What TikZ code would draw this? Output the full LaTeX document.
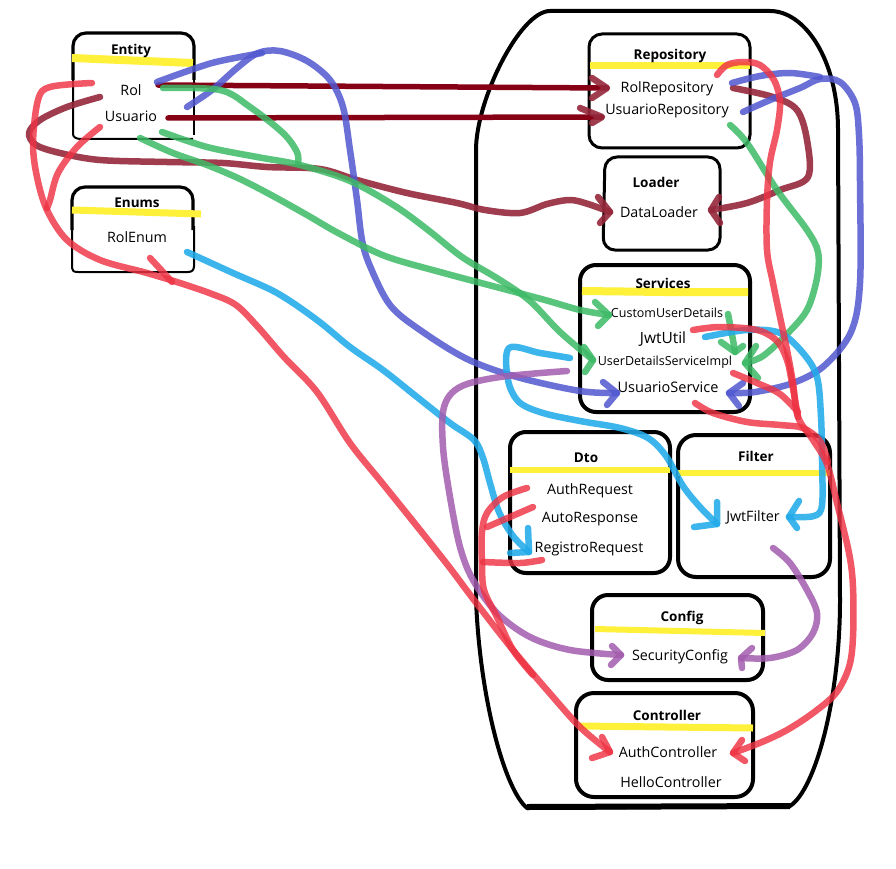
\documentclass[tikz,border=0pt]{standalone}
\usepackage{fontspec}
\setmainfont{Open Sans}
\definecolor{hlyellow}{HTML}{FFF03A}
\definecolor{penmaroon}{HTML}{860016}
\definecolor{penwine}{HTML}{95283C}
\definecolor{penred}{HTML}{EE3344}
\definecolor{penblue}{HTML}{5258CF}
\definecolor{pengreen}{HTML}{3DBA66}
\definecolor{pencyan}{HTML}{22AAEA}
\definecolor{penpurple}{HTML}{A35CAE}
\tikzset{
  frame/.style={line width=4pt, line join=round, line cap=round},
  pkg/.style={line width=4pt, rounded corners=16pt},
  hl/.style={line width=7pt, draw=hlyellow},
  title/.style={font=\bfseries\fontsize{13.5}{16}\selectfont, inner sep=0pt},
  item/.style={font=\fontsize{14.3}{17}\selectfont, inner sep=0pt},
  pen/.style={line width=6.5pt, line cap=round, line join=round},
  maroonpen/.style={line width=5.5pt, draw=penmaroon, line cap=round},
  winepen/.style={pen, draw=penwine, draw opacity=0.9},
  redpen/.style={pen, draw=penred, draw opacity=0.82},
  bluepen/.style={pen, draw=penblue, draw opacity=0.85},
  greenpen/.style={pen, draw=pengreen, draw opacity=0.85},
  cyanpen/.style={pen, draw=pencyan, draw opacity=0.88},
  purplepen/.style={pen, draw=penpurple, draw opacity=0.85},
  sm/.style={smooth, tension=0.55}
}
\begin{document}
\begin{tikzpicture}[x=1pt,y=-1pt]
\useasboundingbox[fill=white] (0,0) rectangle (896,869);

% ---------- outer application frame ----------
\draw[frame] (476,600) -- (476,150) .. controls (476,100) and (520,11) .. (550,11)
  -- (770,11) .. controls (805,11) and (838,60) .. (838,130)
  -- (840,600) .. controls (840,700) and (815,790) .. (790,806)
  -- (527,808) .. controls (505,790) and (480,700) .. (476,600) -- cycle;
\draw[line width=6pt] (527,807) -- (790,806);

% ---------- package boxes ----------
% Entity
\draw[line width=3.2pt, rounded corners=13pt] (73,80) -- (73,33) -- (194,33) -- (194,80);
\draw[line width=2pt] (73,75) -- (73,134) .. controls (73,137) and (76,139) .. (81,139) -- (193,139);
\draw[line width=2pt] (194,75) -- (194,135);
% Enums
\draw[line width=3.2pt, rounded corners=13pt] (72,230) -- (72,187) -- (193,187) -- (193,230);
\draw[line width=2pt] (72,226) -- (72,268) .. controls (72,271) and (74,272) .. (78,272) -- (188,272)
  .. controls (192,272) and (194,270) .. (194,266) -- (194,226);
% packages inside the frame
\draw[line width=3pt, rounded corners=13pt] (589,34) rectangle (750,148);
\draw[line width=3pt, rounded corners=12pt] (605,157) -- (720,157) -- (720,250) -- (603,250) -- cycle;
\draw[pkg] (580,265) rectangle (750,412);
\draw[pkg] (510,432) rectangle (670,573);
\draw[pkg, rounded corners=18pt] (678,435) rectangle (830,577);
\draw[pkg] (592,595) rectangle (763,680);
\draw[pkg, rounded corners=18pt] (576,693) rectangle (753,797);

% ---------- yellow title highlights ----------
\draw[hl, line width=8pt] (72,58) -- (193,63);
\draw[hl] (72,210) -- (201,214);
\draw[hl] (590,66) -- (750,66);
\draw[hl, line width=8pt] (582,291) -- (665,292) -- (748,292);
\draw[hl, line width=6pt] (510,470) -- (670,470);
\draw[hl, line width=6pt] (678,473) -- (830,473);
\draw[hl, line width=6pt] (595,629) -- (765,633);
\draw[hl] (579,726) -- (753,728);

% ---------- titles and members ----------
\node[title] (entity) at (131,51) {Entity};
\node[item]  (rol) at (131,90) {Rol};
\node[item]  (usuario) at (131,116) {Usuario};
\node[title] (enums) at (137,203) {Enums};
\node[item]  (rolenum) at (137,237) {RolEnum};

\node[title] (repository) at (670,56) {Repository};
\node[item]  (rolrepo) at (667,89) {RolRepository};
\node[item]  (usuariorepo) at (667,111) {UsuarioRepository};

\node[title] (loader) at (656,182) {Loader};
\node[item]  (dataloader) at (659,212) {DataLoader};

\node[title] (services) at (663,283) {Services};
\node[item, font=\fontsize{12.5}{15}\selectfont] (customuser) at (667,313) {CustomUserDetails};
\node[item, font=\fontsize{15.5}{18}\selectfont] (jwtutil) at (663,339) {JwtUtil};
\node[item, font=\fontsize{12.5}{15}\selectfont] (udsimpl) at (665,362) {UserDetailsServiceImpl};
\node[item, font=\fontsize{14.5}{17}\selectfont] (usuarioservice) at (668,387) {UsuarioService};

\node[title] (dto) at (586,458) {Dto};
\node[item]  (authreq) at (590,491) {AuthRequest};
\node[item]  (autoresp) at (590,519) {AutoResponse};
\node[item]  (registroreq) at (589,549) {RegistroRequest};

\node[title] (filter) at (756,456) {Filter};
\node[item]  (jwtfilter) at (753,517) {JwtFilter};

\node[title] (config) at (682,618) {Config};
\node[item]  (securityconfig) at (680,657) {SecurityConfig};

\node[title] (controller) at (667,715) {Controller};
\node[item]  (authcontroller) at (668,752) {AuthController};
\node[item]  (hellocontroller) at (671,782) {HelloController};

% ---------- arrow tips of the hand-drawn links ----------
\coordinate (tRolRepo) at (607,88);
\coordinate (tUsuRepo) at (602,117);
\coordinate (tLoaderL) at (610,212);
\coordinate (tLoaderR) at (711,210);
\coordinate (tUsuSvcL) at (617,393);
\coordinate (tUsuSvcR) at (729,393);
\coordinate (tCustom)  at (609,315);
\coordinate (tImplL)   at (593,360);
\coordinate (tImplR)   at (745,363);
\coordinate (tImplTop) at (735,352);
\coordinate (tRegistro) at (529,552);
\coordinate (tFilterR) at (789,517);
\coordinate (tFilterL) at (717,524);
\coordinate (tSecL)    at (621,655);
\coordinate (tSecR)    at (741,658);
\coordinate (tAuthL)   at (610,752);
\coordinate (tAuthR)   at (733,753);

% ---------- maroon: entities to repositories ----------
\draw[maroonpen] (158,85) -- (tRolRepo);
\draw[maroonpen] (168,118) -- (tUsuRepo);
\draw[winepen] (592,78) -- (tRolRepo) -- (592,98);
\draw[winepen] (580,108) -- (tUsuRepo) -- (592,123);

% wine: Usuario and repositories to DataLoader
\draw[winepen] plot[sm] coordinates {(100,97) (67,107) (40,120) (29,133) (36,145) (60,153) (100,160) (167,162) (223,163) (267,167) (320,169) (357,180) (407,193) (457,203) (485,210) (520,213) (547,204) (570,200) (588,204) (tLoaderL)};
\draw[winepen] (598,197) -- (tLoaderL) -- (600,223);
\draw[winepen] plot[sm] coordinates {(733,88) (773,97) (797,110) (807,140) (808,177) (780,190) (747,203) (tLoaderR)};
\draw[winepen] (719,197) -- (tLoaderR) -- (720,223);

% ---------- blue: to UsuarioService ----------
\draw[bluepen] plot[sm] coordinates {(157,82) (182,73) (212,63) (240,57) (262,53)};
\draw[bluepen] plot[sm] coordinates {(187,107) (212,90) (237,68) (258,53) (280,51) (307,61) (330,80) (343,107) (350,150) (357,200) (362,240) (370,266) (390,305) (420,330) (467,359) (517,377) (580,391) (tUsuSvcL)};
\draw[bluepen] (603,382) -- (tUsuSvcL) -- (607,405);
\draw[bluepen] plot[sm] coordinates {(732,83) (760,76) (790,73) (820,77)};
\draw[bluepen] plot[sm] coordinates {(743,112) (770,100) (800,88) (820,79) (840,82) (855,103) (859,135) (860,183) (860,283) (851,332) (824,366) (793,383) (755,392) (tUsuSvcR)};
\draw[bluepen] (743,383) -- (tUsuSvcR) -- (739,406);

% ---------- green: to the user-details services ----------
\draw[greenpen] plot[sm] coordinates {(163,88) (220,90) (250,107) (283,133) (297,152) (298,163)};
\draw[greenpen] plot[sm] coordinates {(162,132) (207,147) (257,157) (300,165) (350,181) (395,206) (428,230) (462,257) (500,280) (530,301) (560,332) (tImplL)};
\draw[greenpen] (584,347) -- (tImplL) -- (585,372);
\draw[greenpen] plot[sm] coordinates {(140,138) (173,153) (207,165) (240,179) (273,196) (307,215) (340,234) (385,256) (440,272) (500,288) (545,300) (580,310) (tCustom)};
\draw[greenpen] (595,302) -- (tCustom) -- (598,326);
\draw[greenpen] plot[sm] coordinates {(730,125) (747,143) (777,190) (807,230) (818,252) (817,278) (807,310) (787,334) (763,356) (tImplR)};
\draw[greenpen] (756,346) -- (tImplR) -- (758,378);
\draw[greenpen] plot[sm] coordinates {(728,314) (733,340) (tImplTop)};
\draw[greenpen] (721,342) -- (tImplTop) -- (743,346);

% ---------- cyan: to the request and filter ----------
\draw[cyanpen] plot[sm] coordinates {(187,252) (233,273) (277,293) (317,320) (350,347) (383,370) (417,397) (450,423) (474,440) (483,458) (490,483) (499,512) (513,536) (tRegistro)};
\draw[cyanpen] (528,528) -- (tRegistro) -- (510,553);
\draw[cyanpen] plot[sm] coordinates {(705,337) (747,330) (780,333) (803,353) (817,377) (821,417) (822,460) (822,505) (814,516) (tFilterR)};
\draw[cyanpen] (799,501) -- (tFilterR) -- (797,528);
\draw[cyanpen] plot[sm] coordinates {(570,358) (540,353) (509,348) (508,380) (519,402) (543,413) (580,421) (620,428) (648,438) (666,456) (683,486) (700,507) (tFilterL)};
\draw[cyanpen] (717,502) -- (tFilterL) -- (694,527);

% ---------- purple: to SecurityConfig ----------
\draw[purplepen] plot[sm] coordinates {(567,371) (500,377) (460,387) (444,407) (443,447) (450,497) (460,547) (473,580) (497,613) (530,637) (570,650) (tSecL)};
\draw[purplepen] (612,646) -- (tSecL) -- (611,665);
\draw[purplepen] plot[sm] coordinates {(773,548) (790,563) (807,590) (817,613) (813,633) (797,650) (770,658) (tSecR)};
\draw[purplepen] (752,648) -- (tSecR) -- (742,668);

% ---------- red: to AuthController ----------
\draw[redpen] plot[sm] coordinates {(92,83) (50,87) (38,100) (33,143) (37,177) (47,210) (67,240) (100,260) (147,273) (180,283) (212,294) (236,305) (258,327) (284,357) (317,392) (350,443) (383,484) (420,530) (450,568) (474,600) (513,650) (553,697) (581,728) (tAuthL)};
\draw[redpen] plot[sm] coordinates {(100,127) (77,147) (58,173) (50,200) (47,208)};
\draw[redpen] plot[sm] coordinates {(150,258) (163,272) (172,282)};
\draw[redpen] plot[sm] coordinates {(527,488) (503,497) (487,513) (482,532) (482,563) (484,590) (497,617) (513,650) (533,675)};
\draw[redpen] plot[sm] coordinates {(533,507) (510,517) (487,527)};
\draw[redpen] plot[sm] coordinates {(542,560) (520,563) (483,562)};
\draw[redpen] (602,737) -- (tAuthL) -- (592,758);

\draw[redpen] plot[sm] coordinates {(717,75) (727,65) (743,62) (760,65) (774,80) (780,102) (777,130) (770,162) (767,200) (767,250) (773,283) (780,317) (787,350) (793,383) (798,417) (813,440) (827,464) (837,503) (849,553) (853,587) (853,637) (849,667) (836,693) (813,713) (787,730) (762,742) (tAuthR)};
\draw[redpen] plot[sm] coordinates {(693,330) (720,327) (757,330) (777,341) (787,360) (792,383) (798,417)};
\draw[redpen] plot[sm] coordinates {(733,373) (757,383) (780,394) (798,412)};
\draw[redpen] plot[sm] coordinates {(695,403) (713,413) (747,422) (780,425) (803,428) (820,441) (828,462)};
\draw[redpen] (742,740) -- (tAuthR) -- (745,761);
\end{tikzpicture}
\end{document}
